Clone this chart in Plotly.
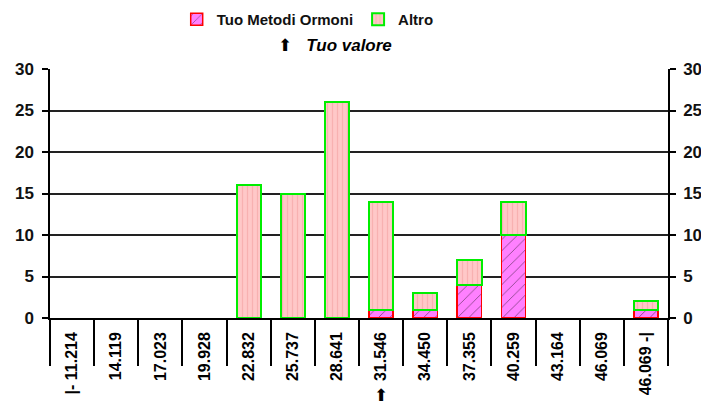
import plotly.graph_objects as go

categories = ["|- 11.214", "14.119", "17.023", "19.928", "22.832", "25.737", "28.641",
              "31.546", "34.450", "37.355", "40.259", "43.164", "46.069", "46.069 -|"]
tuo_metodi = [0, 0, 0, 0, 0, 0, 0, 1, 1, 4, 10, 0, 0, 1]
altro = [0, 0, 0, 0, 16, 15, 26, 13, 2, 3, 4, 0, 0, 1]
your_value_category = "31.546"
y_ticks = [0, 5, 10, 15, 20, 25, 30]

FONT = "Liberation Sans, Arial, sans-serif"
n = len(categories)


def nz(vals):
    return [v if v else None for v in vals]


fig = go.Figure()
fig.add_trace(go.Bar(
    x=categories, y=nz(tuo_metodi), name="Tuo Metodi Ormoni", width=0.55,
    marker=dict(color="#FF80FF", line=dict(color="#FF0000", width=1.5),
                pattern=dict(shape="/", fgcolor="#000000", bgcolor="#FF80FF",
                             size=8, solidity=0.1)),
))
fig.add_trace(go.Bar(
    x=categories, y=nz(altro), name="Altro", width=0.55,
    marker=dict(color="#FFC4C4", line=dict(color="#00EE00", width=2),
                pattern=dict(shape="|", fgcolor="#F29A9A", bgcolor="#FFC8C8",
                             size=5, solidity=0.25)),
))
# invisible helpers for the divider axis and right axis
fig.add_trace(go.Scatter(x=[-0.5, n - 0.5], y=[0, 0], xaxis="x2", mode="markers",
                         marker=dict(opacity=0), showlegend=False, hoverinfo="skip"))
fig.add_trace(go.Scatter(x=[categories[0]], y=[0], yaxis="y2", mode="markers",
                         marker=dict(opacity=0), showlegend=False, hoverinfo="skip"))

fig.update_layout(
    barmode="stack",
    width=701, height=398,
    margin=dict(l=42, r=41, t=61, b=88, autoexpand=False),
    paper_bgcolor="white", plot_bgcolor="white",
    font=dict(family=FONT, color="#111111"),
    showlegend=True,
    legend=dict(orientation="h", x=0.417, xanchor="center", y=1.265, yanchor="top",
                font=dict(family=FONT, size=15, color="#111111", weight="bold"),
                traceorder="normal", itemwidth=30, bgcolor="rgba(0,0,0,0)"),
    xaxis=dict(type="category", categoryorder="array", categoryarray=categories,
               range=[-0.5, n - 0.5], tickangle=-90, ticks="", ticklabelstandoff=6,
               tickfont=dict(family=FONT, size=16, color="#000000", weight="bold"),
               showline=True, linecolor="#000000", linewidth=1.5, showgrid=False,
               zeroline=False, fixedrange=True, automargin=False),
    xaxis2=dict(overlaying="x", side="bottom", range=[-0.5, n - 0.5],
                tickvals=[i - 0.5 for i in range(n + 1)], showticklabels=False,
                ticks="outside", ticklen=47, tickwidth=1.5, tickcolor="#000000",
                showgrid=False, zeroline=False, showline=False, automargin=False),
    yaxis=dict(range=[0, 30], tickvals=y_ticks, ticks="outside", ticklen=6,
               tickwidth=1.5, tickcolor="#000000", ticklabelstandoff=5,
               tickfont=dict(family=FONT, size=17, color="#111111", weight="bold"),
               showgrid=True, gridcolor="#222222", gridwidth=1.5,
               showline=True, linecolor="#000000", linewidth=1.5, zeroline=False,
               automargin=False),
    yaxis2=dict(overlaying="y", side="right", range=[0, 30], tickvals=y_ticks,
                ticks="outside", ticklen=6, tickwidth=1.5, tickcolor="#000000",
                ticklabelstandoff=4,
                tickfont=dict(family=FONT, size=17, color="#111111", weight="bold"),
                showgrid=False, showline=True, linecolor="#000000", linewidth=1.5,
                zeroline=False, automargin=False),
)

fig.add_annotation(text="⬆   <b><i>Tuo valore</i></b>", xref="paper", yref="paper",
                   x=0.365, y=1.096, xanchor="left", yanchor="middle", showarrow=False,
                   font=dict(family=FONT, size=17, color="#000000"))
arrow_x = (categories.index(your_value_category) + 0.5) / n
fig.add_annotation(text="⬆", xref="paper", yref="paper", x=arrow_x, y=-0.265,
                   xanchor="center", yanchor="top", showarrow=False,
                   font=dict(family=FONT, size=17, color="#000000"))

fig.write_html("out.html")
